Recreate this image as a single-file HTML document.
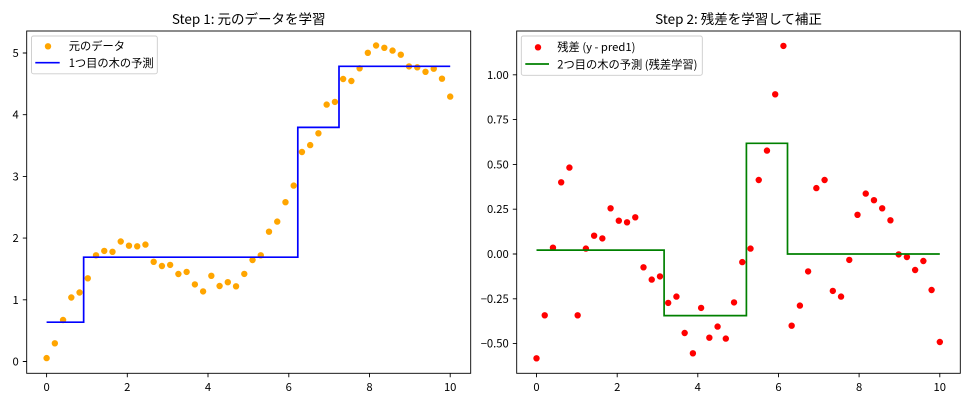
<!DOCTYPE html>
<html>
<head>
<meta charset="utf-8">
<style>
html,body{margin:0;padding:0;background:#fff;}
svg{display:block;}
text{font-family:"Noto Sans CJK JP","Liberation Sans",sans-serif;fill:#000;}
.tk{font-size:11.25px;}
.lg{font-size:11.25px;}
.ti{font-size:13.5px;}
.dot{fill:none;stroke-width:6.4;stroke-linecap:round;}
</style>
</head>
<body>
<svg width="972" height="405" viewBox="0 0 972 405" xmlns="http://www.w3.org/2000/svg">
<rect x="0" y="0" width="972" height="405" fill="#fff"/>

<text class="ti" x="248.7" y="23.8" text-anchor="middle">Step 1: 元のデータを学習</text>

<path class="dot" stroke="#FFA500" d="M46.6 358.1h0M54.84 343.3h0M63.07 320h0M71.31 297.5h0M79.55 292.5h0M87.79 278.3h0M96.02 255.3h0M104.26 250.9h0M112.5 251.8h0M120.73 241.5h0M128.97 245.7h0M137.21 246.3h0M145.44 244.6h0M153.68 261.8h0M161.92 266h0M170.16 264.9h0M178.39 274h0M186.63 271.9h0M194.87 284.4h0M203.1 291.4h0M211.34 275.8h0M219.58 286h0M227.81 282.2h0M236.05 286.3h0M244.29 273.9h0M252.53 260h0M260.76 255.3h0M269 231.7h0M277.24 221.6h0M285.47 202.2h0M293.71 185.6h0M301.95 152h0M310.18 145.1h0M318.42 133.3h0M326.66 104.6h0M334.9 101.9h0M343.13 79h0M351.37 81h0M359.61 68.3h0M367.84 52.8h0M376.08 45.5h0M384.32 47.8h0M392.55 50.6h0M400.79 54.7h0M409.03 66.4h0M417.27 67.3h0M425.5 71.8h0M433.74 68.7h0M441.98 78.7h0M450.21 96.6h0"/>

<polyline fill="none" stroke="#0000FF" stroke-width="1.7" points="46.6,322.2 83.65,322.2 83.65,257.2 297.8,257.2 297.8,127.35 339.0,127.35 339.0,66.3 450.2,66.3"/>

<rect x="26.7" y="31" width="444" height="342.3" fill="none" stroke="#000" stroke-width="0.9"/>
<path stroke="#000" stroke-width="0.9" fill="none" d="M22.8 361.5h3.9M22.8 299.8h3.9M22.8 238.1h3.9M22.8 176.4h3.9M22.8 114.7h3.9M22.8 53h3.9M46.6 373.3v3.9M127.3 373.3v3.9M208 373.3v3.9M288.8 373.3v3.9M369.5 373.3v3.9M450.2 373.3v3.9"/>

<g class="tk" text-anchor="end">
<text x="18.8" y="365.5">0</text>
<text x="18.8" y="303.8">1</text>
<text x="18.8" y="242.1">2</text>
<text x="18.8" y="180.4">3</text>
<text x="18.8" y="118.7">4</text>
<text x="18.8" y="57.0">5</text>
</g>
<g class="tk" text-anchor="middle">
<text x="46.6" y="391">0</text>
<text x="127.3" y="391">2</text>
<text x="208.0" y="391">4</text>
<text x="288.8" y="391">6</text>
<text x="369.5" y="391">8</text>
<text x="450.2" y="391">10</text>
</g>

<rect x="31.5" y="36" width="125.8" height="37.8" rx="2" ry="2" fill="#fff" fill-opacity="0.8" stroke="#cccccc" stroke-width="0.9"/>
<circle cx="48" cy="46.3" r="3.2" fill="#FFA500"/>
<line x1="35.3" y1="62.7" x2="59.7" y2="62.7" stroke="#0000FF" stroke-width="1.7"/>
<text class="lg" x="68.7" y="50">元のデータ</text>
<text class="lg" x="68.7" y="67">1つ目の木の予測</text>

<text class="ti" x="738.5" y="23.8" text-anchor="middle">Step 2: 残差を学習して補正</text>

<path class="dot" stroke="#FF0000" d="M536.5 358.3h0M544.73 315.3h0M552.96 247.7h0M561.19 182.3h0M569.42 167.6h0M577.66 315.3h0M585.89 248.6h0M594.12 235.7h0M602.35 238.4h0M610.58 208.3h0M618.81 220.7h0M627.04 222.3h0M635.27 217.3h0M643.5 267.3h0M651.73 279.6h0M659.97 276.4h0M668.2 302.9h0M676.43 296.6h0M684.66 333h0M692.89 353.3h0M701.12 307.9h0M709.35 337.7h0M717.58 326.6h0M725.81 338.6h0M734.04 302.4h0M742.28 262.1h0M750.51 248.6h0M758.74 180h0M766.97 150.6h0M775.2 94.3h0M783.43 45.9h0M791.66 325.7h0M799.89 305.6h0M808.12 271.4h0M816.35 188.1h0M824.59 180h0M832.82 290.9h0M841.05 296.6h0M849.28 259.9h0M857.51 214.8h0M865.74 193.6h0M873.97 200.2h0M882.2 208.3h0M890.43 220.3h0M898.66 254.4h0M906.9 257h0M915.13 270h0M923.36 261h0M931.59 290h0M939.82 342h0"/>

<polyline fill="none" stroke="#008000" stroke-width="1.7" points="536.5,250.1 664.1,250.1 664.1,315.6 746.4,315.6 746.4,143.3 787.5,143.3 787.5,254 939.8,254"/>

<rect x="516.7" y="31" width="443.6" height="342.3" fill="none" stroke="#000" stroke-width="0.9"/>
<path stroke="#000" stroke-width="0.9" fill="none" d="M512.8 343.6h3.9M512.8 298.8h3.9M512.8 254h3.9M512.8 209.2h3.9M512.8 164.4h3.9M512.8 119.6h3.9M512.8 74.8h3.9M536.5 373.3v3.9M617.2 373.3v3.9M697.8 373.3v3.9M778.5 373.3v3.9M859.1 373.3v3.9M939.8 373.3v3.9"/>

<g class="tk" text-anchor="end">
<text x="508.8" y="347.6">−0.50</text>
<text x="508.8" y="302.8">−0.25</text>
<text x="508.8" y="258.0">0.00</text>
<text x="508.8" y="213.2">0.25</text>
<text x="508.8" y="168.4">0.50</text>
<text x="508.8" y="123.6">0.75</text>
<text x="508.8" y="78.8">1.00</text>
</g>
<g class="tk" text-anchor="middle">
<text x="536.5" y="391">0</text>
<text x="617.2" y="391">2</text>
<text x="697.8" y="391">4</text>
<text x="778.5" y="391">6</text>
<text x="859.1" y="391">8</text>
<text x="939.8" y="391">10</text>
</g>

<rect x="521.3" y="36" width="181" height="39.3" rx="2" ry="2" fill="#fff" fill-opacity="0.8" stroke="#cccccc" stroke-width="0.9"/>
<circle cx="538" cy="47.3" r="3.2" fill="#FF0000"/>
<line x1="525.3" y1="64" x2="549" y2="64" stroke="#008000" stroke-width="1.7"/>
<text class="lg" x="557.3" y="51">残差 (y - pred1)</text>
<text class="lg" x="557.3" y="68.5">2つ目の木の予測 (残差学習)</text>
</svg>
</body>
</html>
